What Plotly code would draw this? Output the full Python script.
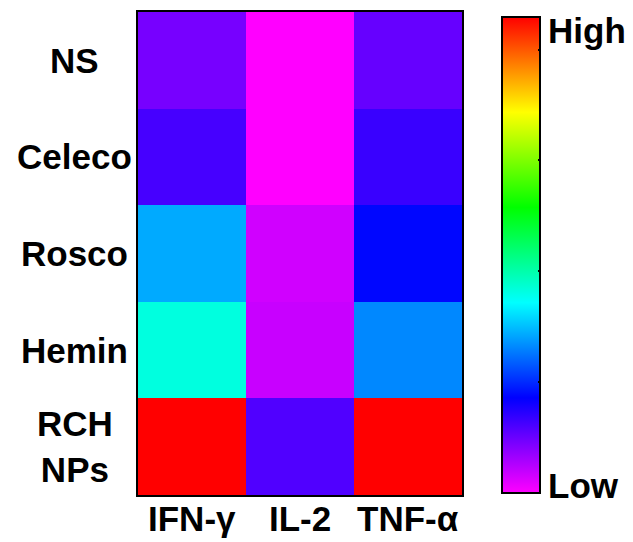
import plotly.graph_objects as go

cytokines = ["IFN-γ", "IL-2", "TNF-α"]
groups = ["NS", "Celeco", "Rosco", "Hemin", "RCH NPs"]
group_labels = ["NS", "Celeco", "Rosco", "Hemin", "RCH<br>NPs"]

# relative expression level (0 = Low, 1 = High)
ifn_g = [0.107, 0.145, 0.333, 0.425, 1.0]
il_2 = [0.0, 0.0, 0.037, 0.043, 0.137]
tnf_a = [0.12, 0.155, 0.205, 0.307, 1.0]

z = [[a, b, c] for a, b, c in zip(ifn_g, il_2, tnf_a)]

colorscale = [
    [0.0, "#FF00FF"],
    [0.2, "#0000FF"],
    [0.4, "#00FFFF"],
    [0.6, "#00FF00"],
    [0.8, "#FFFF00"],
    [1.0, "#FF0000"],
]

font_family = "Liberation Sans, Arial, sans-serif"
FS = 35

fig = go.Figure(
    go.Heatmap(
        z=z,
        x=cytokines,
        y=groups,
        colorscale=colorscale,
        zmin=0,
        zmax=1,
        colorbar=dict(
            thickness=38,
            len=0.985,
            lenmode="fraction",
            x=1.1235,
            xanchor="left",
            xpad=0,
            ypad=0,
            y=0.497,
            yanchor="middle",
            outlinecolor="black",
            outlinewidth=2,
            tickvals=[0.234, 0.467, 0.70, 0.93],
            ticktext=["", "", "", ""],
            ticks="inside",
            ticklen=3,
            tickcolor="black",
            tickwidth=2,
        ),
    )
)

annotations = []
for g, lab in zip(groups, group_labels):
    annotations.append(
        dict(
            x=-0.195, xref="paper", y=g, yref="y",
            text=f"<b>{lab}</b>", showarrow=False,
            xanchor="center", yanchor="middle",
            font=dict(family=font_family, size=FS, color="black"),
        )
    )
for c in cytokines:
    annotations.append(
        dict(
            x=c, xref="x", y=0, yref="paper",
            text=f"<b>{c}</b>", showarrow=False,
            xanchor="center", yanchor="top", yshift=-2,
            font=dict(family=font_family, size=FS, color="black"),
        )
    )
annotations.append(
    dict(x=1.26, xref="paper", y=0.961, yref="paper", text="<b>High</b>",
         showarrow=False, xanchor="left", yanchor="middle",
         font=dict(family=font_family, size=FS, color="black"))
)
annotations.append(
    dict(x=1.26, xref="paper", y=0.02, yref="paper", text="<b>Low</b>",
         showarrow=False, xanchor="left", yanchor="middle",
         font=dict(family=font_family, size=FS, color="black"))
)

fig.update_layout(
    width=633,
    height=542,
    margin=dict(l=138, r=171, t=12, b=47, autoexpand=False),
    paper_bgcolor="white",
    plot_bgcolor="white",
    annotations=annotations,
    xaxis=dict(
        showline=True, linecolor="black", linewidth=2, mirror=True,
        ticks="", showticklabels=False, automargin=False,
    ),
    yaxis=dict(
        showline=True, linecolor="black", linewidth=2, mirror=True,
        autorange="reversed", showticklabels=False, ticks="",
        automargin=False,
    ),
)

fig.write_html("out.html")
